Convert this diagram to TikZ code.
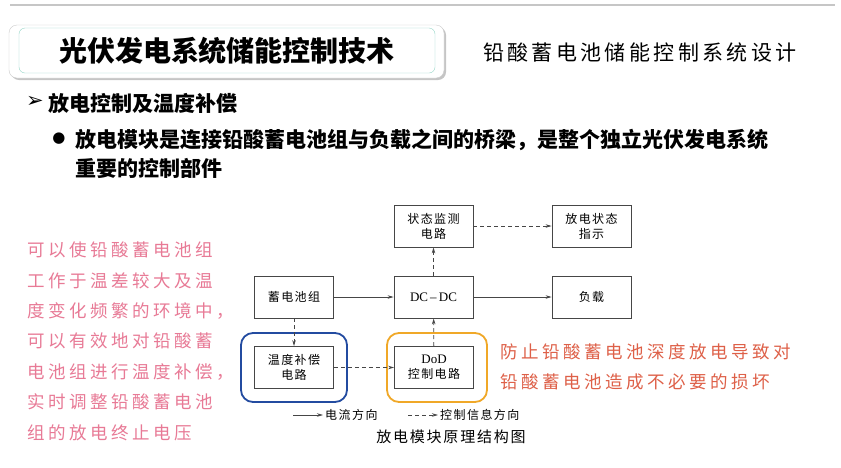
\documentclass[tikz,border=0pt]{standalone}
\usepackage{fontspec}
\setmainfont{Liberation Serif}
\newfontfamily\cjk{Noto Sans CJK SC}
\newfontfamily\cjksp[LetterSpace=12]{Noto Sans CJK SC}
\newfontfamily\cjksub[LetterSpace=16]{Noto Sans CJK SC}
\newfontfamily\cjkwide[LetterSpace=20]{Noto Sans CJK SC}
\newfontfamily\symb{DejaVu Sans}
\usetikzlibrary{arrows.meta,shadows}
\definecolor{pinktext}{RGB}{232,122,150}
\definecolor{redtext}{RGB}{222,96,72}
\definecolor{ringblue}{RGB}{35,75,160}
\definecolor{ringorange}{RGB}{240,168,40}
\definecolor{titleline}{RGB}{150,215,200}
\definecolor{boxline}{RGB}{70,70,70}

\begin{document}
\begin{tikzpicture}[x=1pt,y=-1pt,
		blockbox/.style={draw=boxline,line width=0.8pt,minimum width=79pt,minimum height=42pt,inner sep=0pt,align=center,font=\cjksp\fontsize{12}{15}\selectfont},
		flow/.style={boxline,line width=0.8pt,-{Stealth[length=6pt,width=3.5pt]}},
		ctrl/.style={flow,dash pattern=on 4pt off 3pt},
		ring/.style={line width=1.8pt,rounded corners=12pt},
		handnote/.style={anchor=west,inner sep=0pt,font=\cjkwide\fontsize{17.5}{20}\selectfont},
		legendtext/.style={anchor=west,inner sep=2pt,font=\cjksp\fontsize{12}{14}\selectfont}]
	\useasboundingbox (0,0) rectangle (841,467);
	\fill[white] (0,0) rectangle (841,467);
	\draw[gray!45,line width=1.5pt] (10,5) -- (835,5);

	\draw[gray!40,fill=white,rounded corners=8pt,drop shadow={shadow xshift=2pt,shadow yshift=-2pt,opacity=.45}] (9,25) rectangle (444,78);
	\draw[titleline,rounded corners=6pt] (19,28) rectangle (435,73);
	\node[font=\cjk\bfseries\fontsize{28}{30}\selectfont] (title) at (227,51) {光伏发电系统储能控制技术};
	\node[anchor=west,inner sep=0pt,font=\cjksub\fontsize{21}{24}\selectfont] (subtitle) at (483,53) {铅酸蓄电池储能控制系统设计};

	\node[font=\symb\fontsize{21}{23}\selectfont] (mark) at (35,102) {➢};
	\node[anchor=west,inner sep=0pt,font=\cjk\bfseries\fontsize{21}{24}\selectfont] (topic) at (48,103) {放电控制及温度补偿};
	\node[font=\symb\fontsize{15}{17}\selectfont] (dot) at (59,139) {●};
	\node[anchor=west,inner sep=0pt,font=\cjk\bfseries\fontsize{21}{24}\selectfont] (lineA) at (75,140) {放电模块是连接铅酸蓄电池组与负载之间的桥梁，是整个独立光伏发电系统};
	\node[anchor=west,inner sep=0pt,font=\cjk\bfseries\fontsize{21}{24}\selectfont] (lineB) at (75,168) {重要的控制部件};

	\foreach \txt [count=\k] in {可以使铅酸蓄电池组,工作于温差较大及温,度变化频繁的环境中，,可以有效地对铅酸蓄,电池组进行温度补偿，,实时调整铅酸蓄电池,组的放电终止电压}{
		\node[handnote,text=pinktext] (note\k) at (27,219.6+30.4*\k) {\txt};
	}
	\node[handnote,text=redtext] (warnA) at (500,352) {防止铅酸蓄电池深度放电导致对};
	\node[handnote,text=redtext] (warnB) at (500,382) {铅酸蓄电池造成不必要的损坏};

	\node[blockbox] (monitor) at (433.5,226) {状态监测\\电路};
	\node[blockbox] (indicate) at (591.5,226) {放电状态\\指示};
	\node[blockbox] (battery) at (294,297) {蓄电池组};
	\node[blockbox] (dcdc) at (433.5,297) {\rmfamily\fontsize{13}{15}\selectfont DC\,--\,DC};
	\node[blockbox] (load) at (591.5,297) {负载};
	\node[blockbox] (tempcomp) at (294,367.5) {温度补偿\\电路};
	\node[blockbox] (dod) at (434,367.5) {{\rmfamily\fontsize{13}{15}\selectfont DoD}\\控制电路};

	\draw[ring,ringblue] (241,333) rectangle (347,402);
	\draw[ring,ringorange] (387,333) rectangle (487,402);

	\draw[flow] (battery) -- (dcdc);
	\draw[flow] (dcdc) -- (load);
	\draw[ctrl] (dcdc) -- (monitor);
	\draw[ctrl] (monitor) -- (indicate);
	\draw[ctrl] (battery) -- (tempcomp);
	\draw[ctrl] (tempcomp) -- (dod);
	\draw[ctrl] (dod) -- (dcdc);

	\node[legendtext] (lgflow) at (323,415) {电流方向};
	\node[legendtext] (lgctrl) at (438,415) {控制信息方向};
	\coordinate (lgflowstart) at (293,415);
	\coordinate (lgctrlstart) at (408,415);
	\draw[flow] (lgflowstart) -- (lgflow);
	\draw[ctrl] (lgctrlstart) -- (lgctrl);
	\node[font=\cjksp\fontsize{15}{17}\selectfont] (caption) at (451,437) {放电模块原理结构图};
\end{tikzpicture}
\end{document}
